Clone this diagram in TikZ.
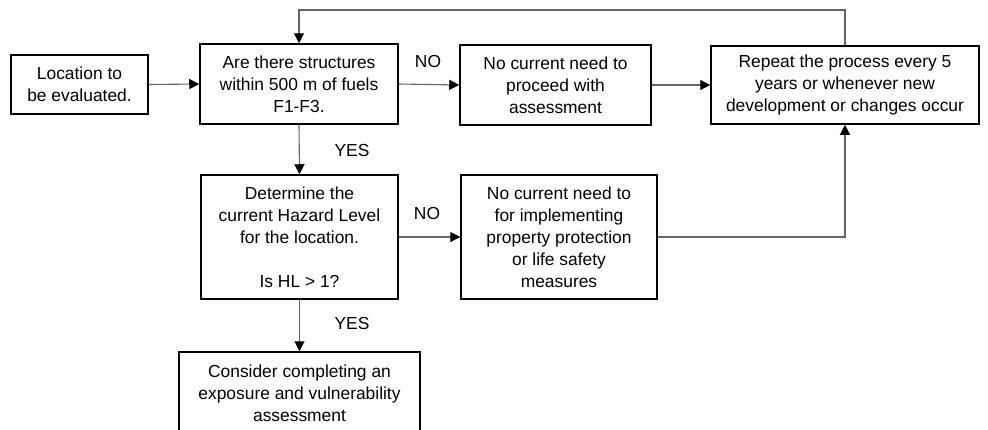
\documentclass[tikz,border=0pt]{standalone}
\usepackage{fontspec}
\setmainfont{Liberation Sans}
\usetikzlibrary{arrows.meta}
\begin{document}
\begin{tikzpicture}[x=1pt,y=-1pt,
  box/.style={draw=black, line width=1.5pt, fill=white, align=center, inner sep=0pt,
    font=\fontsize{17.4}{22}\selectfont},
  conn/.style={draw=black!60, line width=1.1pt, -{Triangle[length=10pt,width=10pt,color=black]}},
  lbl/.style={font=\fontsize{17.4}{22}\selectfont, inner sep=0pt}]
\useasboundingbox (0,0) rectangle (988,429);
\fill[white] (0,0) rectangle (988,429);
\node[box, minimum width=137pt, minimum height=59pt] (b1) at (79.5,84.5) {Location to\\be evaluated.};
\node[box, minimum width=198pt, minimum height=80pt] (b2) at (299,84) {Are there structures\\within 500 m of fuels\\F1-F3.};
\node[box, minimum width=191pt, minimum height=80pt] (b3) at (555.5,85) {No current need to\\proceed with\\assessment};
\node[box, minimum width=268pt, minimum height=78pt] (b4) at (845,85) {Repeat the process every 5\\years or whenever new\\development or changes occur};
\node[box, minimum width=197pt, minimum height=124pt] (b5) at (299.5,237) {Determine the\\current Hazard Level\\for the location.\\[22pt]Is HL > 1?};
\node[box, minimum width=196pt, minimum height=124pt] (b6) at (559,237) {No current need to\\for implementing\\property protection\\or life safety\\measures};
\begin{scope}
\clip (0,0) rectangle (988,429);
\node[box, minimum width=241pt, minimum height=82pt] (b7) at (299.5,393) {Consider completing an\\exposure and vulnerability\\assessment};
\end{scope}
\coordinate (top) at (0,10);
\draw[conn] (b1.east) -- (b2.west);
\draw[conn] (b2.east) -- (b3.west);
\draw[conn] (b3.east) -- (b4.west);
\draw[conn] (b2.south) -- (b5.north);
\draw[conn] (b5.east) -- (b6.west);
\draw[conn] (b5.south) -- (b7.north);
\draw[conn] (b6.east) -| (b4.south);
\draw[conn] (b4.north) -- (b4.north |- top) -| (b2.north);
\node[lbl] (no1) at (428,62) {NO};
\node[lbl] (yes1) at (352,151) {YES};
\node[lbl] (no2) at (427,214) {NO};
\node[lbl] (yes2) at (352,324) {YES};
\end{tikzpicture}
\end{document}
